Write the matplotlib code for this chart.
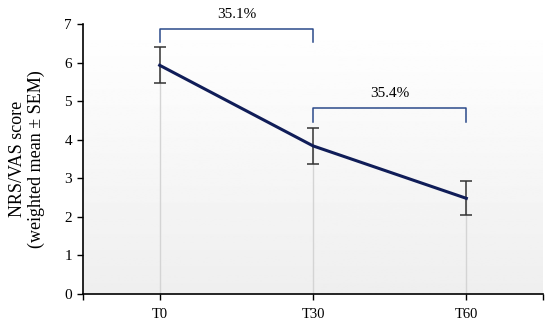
import numpy as np
import matplotlib.pyplot as plt

plt.rcParams['font.family'] = ['Liberation Serif', 'DejaVu Serif']

# data
times = ['T0', 'T30', 'T60']
score = [5.93, 3.84, 2.48]
sem = [0.47, 0.47, 0.44]

# brackets: (start idx, end idx), level, leg bottom, label
bracket_pairs = [(0, 1), (1, 2)]
bracket_top = [6.88, 4.83]
bracket_leg = [6.53, 4.46]
bracket_text = ['35.1%', '35.4%']

fig = plt.figure(figsize=(5.5, 3.24), dpi=100)
ax = fig.add_axes([83 / 550, 30 / 324, 460 / 550, 270 / 324])

x = np.arange(len(times))
ax.set_xlim(-0.5, 2.5)
ax.set_ylim(0, 7)

# gradient background
grad = np.linspace(0.935, 1.0, 256).reshape(-1, 1)
ax.imshow(grad, extent=[-0.5, 2.5, 0, 7], origin='lower', aspect='auto',
          cmap='gray', vmin=0, vmax=1, zorder=0)

ax.vlines(x, 0, score, color='#d4d4d4', lw=1, zorder=1)
ax.errorbar(x, score, yerr=sem, fmt='none', ecolor='#333333', elinewidth=1.1,
            capsize=4, capthick=1.1, zorder=2)
ax.plot(x, score, color='#101d58', lw=2.2, zorder=3)

for (a, b), top, leg, txt in zip(bracket_pairs, bracket_top, bracket_leg, bracket_text):
    ax.plot([a, a, b, b], [leg, top, top, leg], color='#2b4a8a', lw=1.1,
            clip_on=False, zorder=3)
    ax.text((a + b) / 2, top + 0.2, txt, ha='center', va='bottom', fontsize=11)

ax.set_xticks(x)
ax.set_xticklabels(times)
ax.set_xticks([-0.5, 2.5], minor=True)
ax.tick_params(axis='x', which='both', length=4, width=1, labelsize=10.5, pad=6)
ax.tick_params(axis='y', length=4, width=1, labelsize=11, pad=4)
ax.set_yticks(range(8))

ax.spines['top'].set_visible(False)
ax.spines['right'].set_visible(False)
ax.spines['left'].set_linewidth(1.2)
ax.spines['bottom'].set_linewidth(1.2)

ax.set_ylabel('NRS/VAS score\n(weighted mean ± SEM)', fontsize=13, labelpad=14,
              linespacing=1.1)

fig.savefig('out.png', dpi=100)
